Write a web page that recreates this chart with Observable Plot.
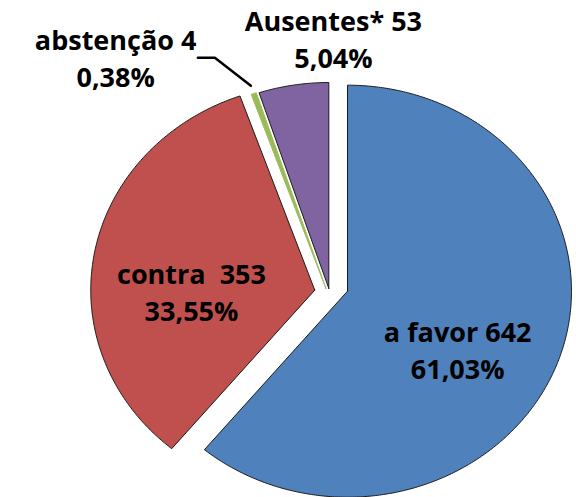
<!DOCTYPE html>
<html><head><meta charset="utf-8">
<script src="https://cdn.jsdelivr.net/npm/d3@7"></script>
<script src="https://cdn.jsdelivr.net/npm/@observablehq/plot@0.6"></script>
<style>body{margin:0;background:#fff}#chart svg{display:block}</style>
</head><body><div id="chart"></div>
<script>
// ---- data ----
const categories = ["a favor", "contra", "abstenção", "Ausentes*"];
const counts = [642, 353, 4, 53];
const percentLabels = ["61,03%", "33,55%", "0,38%", "5,04%"];
const labelTexts = ["a favor 642", "contra  353", "abstenção 4", "Ausentes* 53"];

// ---- style / layout ----
const fillColors = ["#4F81BD", "#C0504D", "#9BBB59", "#8064A2"];
const edgeColors = ["#1a1a1a", "#1a1a1a", "#9BBB59", "#1a1a1a"];
const W = 576, H = 497;
const cx = 331, cy = 290, rx = 224, ry = 206;   // pie centre & radii in px
const explodeX = 17, explodeY = 2;              // explosion in px
// label placement: [angle (deg, clockwise from top), radius (pie radii)]
const labelPolar = [[116.6, 0.63], [270, 0.625], [319.7, 1.49], [0.4, 1.226]];

const arcs = d3.pie().sort(null).value(d => d)(counts);
const slicePts = [];
arcs.forEach((a, i) => {
  const mid = (a.startAngle + a.endAngle) / 2;
  const ox = explodeX / rx * Math.sin(mid), oy = explodeY / ry * Math.cos(mid);
  const key = categories[i];
  slicePts.push({key, x: ox, y: oy});
  const n = Math.max(2, Math.ceil((a.endAngle - a.startAngle) / (Math.PI / 360)) + 1);
  for (let k = 0; k < n; k++) {
    const t = a.startAngle + (a.endAngle - a.startAngle) * k / (n - 1);
    slicePts.push({key, x: ox + Math.sin(t), y: oy + Math.cos(t)});
  }
  slicePts.push({key, x: ox, y: oy});
});

const labels = categories.map((c, i) => {
  const [deg, r] = labelPolar[i];
  const t = deg * Math.PI / 180;
  return {key: c, x: r * Math.sin(t), y: r * Math.cos(t), text: labelTexts[i] + "\n" + percentLabels[i]};
});

// leader for the tiny slice
const gi = 2, ga = arcs[gi], gm = (ga.startAngle + ga.endAngle) / 2;
const gEnd = {x: explodeX / rx * Math.sin(gm) + 1.04 * Math.sin(gm), y: explodeY / ry * Math.cos(gm) + 1.04 * Math.cos(gm)};
const gElbow = {x: gEnd.x - 36 / rx, y: gEnd.y + 28 / ry};
const gStart = {x: gElbow.x - 17 / rx, y: gElbow.y};
const leader = [gStart, gElbow, gEnd];

const chart = Plot.plot({
  width: W, height: H,
  margin: 0,
  x: {domain: [-cx / rx, (W - cx) / rx], axis: null},
  y: {domain: [(cy - H) / ry, cy / ry], axis: null},
  color: {domain: categories, range: fillColors},
  marks: [
    Plot.line(slicePts, {x: "x", y: "y", z: "key", fill: "key",
      stroke: d => edgeColors[categories.indexOf(d.key)], strokeWidth: 1, strokeLinejoin: "miter", curve: "linear"}),
    Plot.line(leader, {x: "x", y: "y", stroke: "#000", strokeWidth: 2.5, strokeLinejoin: "miter"}),
    Plot.text(labels, {x: "x", y: "y", text: "text", fontSize: 27, fontWeight: "bold",
      fontFamily: "'Open Sans', sans-serif", lineHeight: 1.36, fill: "#000"})
  ]
});
document.getElementById("chart").append(chart);
</script>
</body></html>
